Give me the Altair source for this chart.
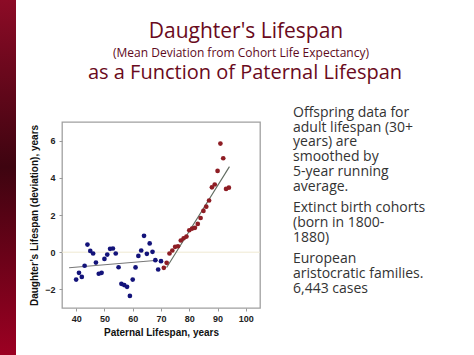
import altair as alt
import pandas as pd

# ---- data ----
blue_x = [40, 41, 42, 43, 44, 45, 46, 47, 48, 49, 50, 51, 52, 53, 54, 55, 56, 57, 58, 59,
          60, 61, 62, 63, 64, 65, 66, 67, 68, 69, 70]
blue_y = [-1.47, -1.11, -1.33, -0.73, 0.41, 0.07, -0.07, -0.56, -1.16, -1.11, -0.36, -0.13,
          0.18, 0.20, -0.07, -0.81, -1.70, -1.77, -1.86, -2.35, -1.47, -0.82, -0.20, 0.09,
          0.88, -0.09, 0.47, 0.02, -0.43, -0.93, -0.48]
red_x = [71, 72, 73, 74, 75, 76, 77, 78, 79, 80, 81, 82, 83, 84, 85, 86, 87, 88, 89, 90,
         91, 92, 93, 94]
red_y = [-0.84, -0.57, -0.07, 0.09, 0.29, 0.32, 0.63, 0.75, 0.84, 1.18, 1.27, 1.31, 1.52,
         1.84, 2.22, 2.45, 2.78, 3.49, 3.64, 4.37, 5.84, 5.05, 3.40, 3.47]
fit1_x = [37.5, 68.9]
fit1_y = [-0.84, -0.43]
fit2_x = [72.0, 94.2]
fit2_y = [-0.82, 4.60]

x_ticks = [40, 50, 60, 70, 80, 90, 100]
y_ticks = [-2, 0, 2, 4, 6]

title1 = "Daughter's Lifespan"
title2 = "(Mean Deviation from Cohort Life Expectancy)"
title3 = "as a Function of Paternal Lifespan"
para1 = ["Offspring data for", "adult lifespan (30+", "years) are", "smoothed by",
         "5-year running", "average."]
para2 = ["Extinct birth cohorts", "(born in 1800-", "1880)"]
para3 = ["European", "aristocratic families.", "6,443 cases"]

pts = pd.DataFrame({
    "x": blue_x + red_x,
    "y": blue_y + red_y,
    "grp": ["a"] * len(blue_x) + ["b"] * len(red_x),
})
fits = pd.DataFrame({
    "x": fit1_x + fit2_x,
    "y": fit1_y + fit2_y,
    "seg": ["a", "a", "b", "b"],
})

W, H = 198, 186
PL, PT = 62, 122

xs = alt.Scale(domain=[35, 105], nice=False, zero=False)
ys = alt.Scale(domain=[-3, 7], nice=False, zero=False)

xax = alt.Axis(values=x_ticks, title="Paternal Lifespan, years", grid=False,
               tickSize=3, labelPadding=3, titlePadding=4)
yax = alt.Axis(values=y_ticks, title="Daughter\u2019s Lifespan (deviation), years",
               grid=False, tickSize=3, labelPadding=4, titlePadding=5)

zero = alt.Chart(alt.Data(values=[{"y": 0}])).mark_rule(
    color="#efe9d2", strokeWidth=1
).encode(y=alt.Y("y:Q", scale=ys, axis=yax))

lines = alt.Chart(fits).mark_line(strokeWidth=1.1).encode(
    x=alt.X("x:Q", scale=xs, axis=xax),
    y=alt.Y("y:Q", scale=ys, axis=yax),
    detail="seg:N",
    color=alt.Color("seg:N", scale=alt.Scale(domain=["a", "b"], range=["#777777", "#5f6a5f"]),
                    legend=None),
)

dots = alt.Chart(pts).mark_circle(size=22, opacity=1).encode(
    x=alt.X("x:Q", scale=xs, axis=xax),
    y=alt.Y("y:Q", scale=ys, axis=yax),
    fill=alt.Fill("grp:N", scale=alt.Scale(domain=["a", "b"], range=["#13137a", "#8e1d24"]),
                  legend=None),
)

one = alt.Data(values=[{"k": 1}])
TF = "Open Sans"
TC = "#6a0a20"


def txt(s, x, y, size, align="center", color=TC, lh=None):
    kw = dict(text=s, fontSize=size, font=TF, color=color, align=align, baseline="alphabetic")
    if lh is not None:
        kw["lineHeight"] = lh
    return alt.Chart(one).mark_text(**kw).encode(x=alt.value(x), y=alt.value(y))


bar = alt.Chart(one).mark_rect(
    color=alt.LinearGradient(
        gradient="linear", x1=0, x2=0, y1=0, y2=1,
        stops=[alt.GradientStop(color="#8c0b26", offset=0),
               alt.GradientStop(color="#3e0410", offset=0.47),
               alt.GradientStop(color="#9c0022", offset=1)],
    )
).encode(x=alt.value(-PL), x2=alt.value(-PL + 16), y=alt.value(-PT), y2=alt.value(355 - PT))

layers = [
    bar, zero, lines, dots,
    txt(title1, 246 - PL, 38 - PT, 21),
    txt(title2, 241 - PL, 57 - PT, 12, color="#5e0a1c"),
    txt(title3, 245 - PL, 79 - PT, 20),
    txt(para1, 293 - PL, 117 - PT, 14, align="left", color="#333333", lh=14.7),
    txt(para2, 293 - PL, 212 - PT, 14, align="left", color="#333333", lh=15),
    txt(para3, 293 - PL, 263 - PT, 14, align="left", color="#333333", lh=15),
]

chart = alt.layer(*layers).properties(
    width=W, height=H,
    padding={"left": PL, "top": PT, "right": 474 - PL - W, "bottom": 355 - PT - H},
    autosize=alt.AutoSizeParams(type="none"),
    background="white",
).configure_view(
    stroke="#a0a0a0", strokeWidth=1.3
).configure_axis(
    domain=False,
    tickColor="#999999",
    labelFont="Liberation Sans", labelFontWeight="bold", labelFontSize=9, labelColor="#222222",
    titleFont="Liberation Sans", titleFontWeight="bold", titleFontSize=10, titleColor="#111111",
)

chart.save("out.html", embed_options={"renderer": "svg", "actions": False})
